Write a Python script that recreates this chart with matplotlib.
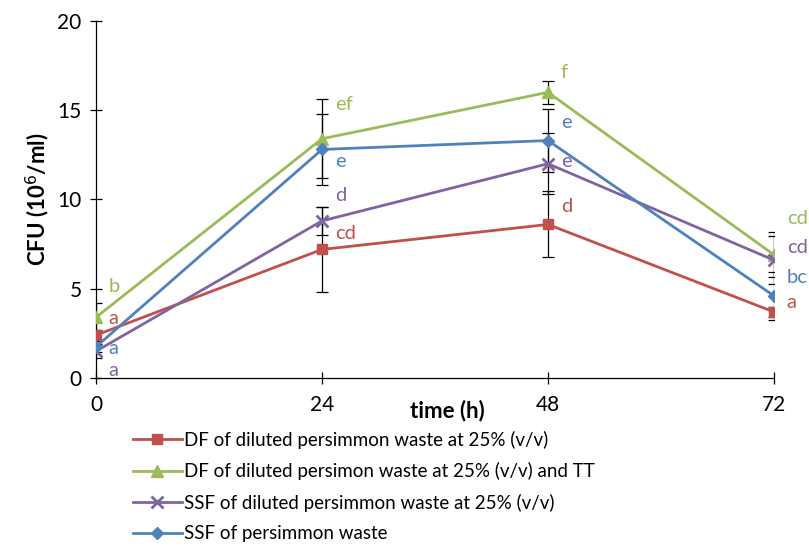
import matplotlib.pyplot as plt

plt.rcParams['font.family'] = ['Lato', 'DejaVu Sans']

hours = [0, 24, 48, 72]

df_dil = [2.4, 7.2, 8.6, 3.7]
df_dil_err = [0.3, 2.4, 1.85, 0.3]
df_dil_tt = [3.4, 13.4, 16.0, 6.9]
df_dil_tt_err = [0.8, 2.2, 0.65, 1.25]
ssf_dil = [1.5, 8.8, 12.0, 6.6]
ssf_dil_err = [0.4, 0.8, 1.7, 1.35]
ssf = [1.75, 12.8, 13.3, 4.6]
ssf_err = [0.3, 2.0, 1.75, 1.35]

letters_df_dil = ['a', 'cd', 'd', 'a']
letters_df_dil_tt = ['b', 'ef', 'f', 'cd']
letters_ssf_dil = ['a', 'd', 'e', 'cd']
letters_ssf = ['a', 'e', 'e', 'bc']

names = ['DF of diluted persimmon waste at 25% (v/v)',
         'DF of diluted persimon waste at 25% (v/v) and TT',
         'SSF of diluted persimmon waste at 25% (v/v)',
         'SSF of persimmon waste']


def main():
    fig = plt.figure(figsize=(8.09, 5.46), dpi=100)
    ax = fig.add_axes([0.1187, 0.3077, 0.838, 0.654])

    # (values, errors, letters, colour, marker, size, name, letter y-offsets)
    series = [
        (df_dil, df_dil_err, letters_df_dil, '#C0504D', 's', 7.5, names[0],
         [0.95, 0.9, 1.0, 0.55]),
        (df_dil_tt, df_dil_tt_err, letters_df_dil_tt, '#9BBB59', '^', 9, names[1],
         [1.7, 1.9, 1.1, 2.05]),
        (ssf_dil, ssf_dil_err, letters_ssf_dil, '#8064A2', 'x', 9, names[2],
         [-1.1, 1.4, 0.1, 0.7]),
        (ssf, ssf_err, letters_ssf, '#4F81BD', 'D', 6.5, names[3],
         [-0.1, -0.7, 1.0, 1.05]),
    ]

    # error bars go under the lines
    for s in series:
        ax.errorbar(hours, s[0], yerr=s[1], fmt='none', ecolor='black',
                    elinewidth=0.9, capsize=4.5, capthick=0.9, zorder=2)

    for vals, errs, lets, col, mk, ms, name, dys in series:
        ax.plot(hours, vals, color=col, lw=2, marker=mk, ms=ms,
                mew=2 if mk == 'x' else 1, label=name, zorder=3)

    # significance letters next to the points
    for vals, errs, lets, col, mk, ms, name, dys in series:
        for h, v, t, dy in zip(hours, vals, lets, dys):
            ax.text(h + 1.35, v + dy, t, color=col, fontsize=14.5,
                    ha='left', va='center', clip_on=False)

    ax.set_xlim(0, 72)
    ax.set_ylim(0, 20)
    ax.set_xticks(hours)
    ax.set_yticks([0, 5, 10, 15, 20])
    ax.spines['top'].set_visible(False)
    ax.spines['right'].set_visible(False)
    for s in ['left', 'bottom']:
        ax.spines[s].set_linewidth(0.9)
    ax.tick_params(direction='inout', length=9, width=0.9, labelsize=15,
                   pad=6)
    ax.tick_params(axis='x', pad=8)

    ax.set_ylabel('CFU (10$^{6}$/ml)', fontsize=16, fontweight='bold',
                  labelpad=4)
    ax.text(37.3, -1.8, 'time (h)', fontsize=16, fontweight='bold',
            ha='center', va='center', clip_on=False)

    fig.legend(loc='upper left', bbox_to_anchor=(0.155, 0.225), frameon=False,
               fontsize=13.5, handlelength=2.6, handletextpad=0.15,
               labelspacing=0.72, borderaxespad=0)

    fig.savefig('out.png', dpi=100)


if __name__ == '__main__':
    main()
